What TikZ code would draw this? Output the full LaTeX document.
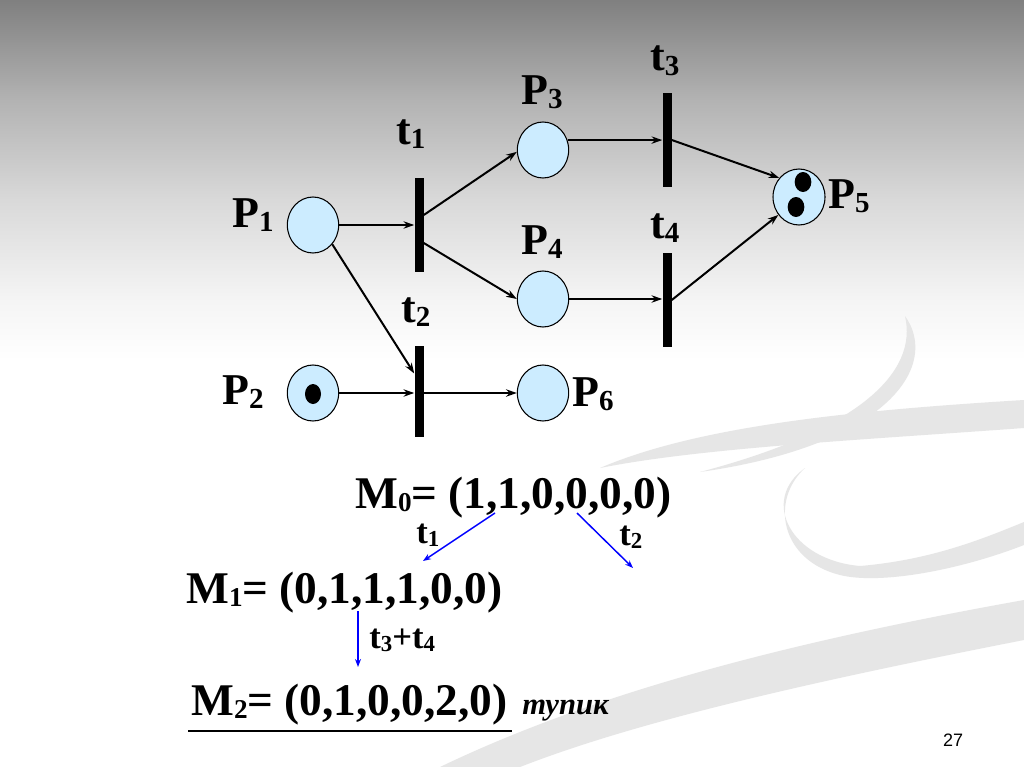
\documentclass[tikz,border=0pt]{standalone}
\usepackage{fontspec}
\usepackage{graphicx}
\setmainfont{Liberation Serif}
\newfontfamily\sansf{Liberation Sans}
\usetikzlibrary{shapes.geometric,arrows.meta,calc}
\newcommand{\sbx}[1]{\raisebox{-0.08em}{\scalebox{0.6}{#1}}}
\newcommand{\sby}[1]{\raisebox{-0.1em}{\scalebox{0.66}{#1}}}
\definecolor{placefill}{RGB}{204,236,255}
\definecolor{swirl}{RGB}{230,230,230}
\pgfdeclareverticalshading{bgshade}{100bp}{color(0bp)=(white); color(25bp)=(white); color(51.5bp)=(white); color(55.4bp)=(black!4); color(62bp)=(black!15); color(68.5bp)=(black!30); color(75bp)=(black!50); color(100bp)=(black!50)}
\begin{document}
\begin{tikzpicture}[x=0.75pt,y=-0.75pt,
  place/.style={ellipse,draw=black,line width=0.8pt,fill=placefill,minimum width=38.5pt,minimum height=42pt,inner sep=0pt},
  bar/.style={fill=black,inner sep=0pt,minimum width=6.75pt,minimum height=70.5pt},
  token/.style={ellipse,fill=black,inner sep=0pt,minimum width=12.5pt,minimum height=15pt},
  lbl/.style={anchor=base west,inner sep=0pt,font=\fontsize{33}{33}\selectfont\bfseries},
  tl/.style={anchor=base west,inner sep=0pt,font=\fontsize{33}{33}\selectfont\bfseries},
  mk/.style={anchor=base west,inner sep=0pt,font=\fontsize{34}{34}\selectfont\bfseries},
  small/.style={anchor=base west,inner sep=0pt,font=\fontsize{26}{26}\selectfont\bfseries},
  arr/.style={line width=1.5pt,-{Stealth[length=8pt,width=5.5pt]}},
  barr/.style={blue,line width=1.1pt,-{Stealth[length=6pt,width=4.5pt]}}]
\useasboundingbox (0,0) rectangle (1024,767);
% background
\shade[shading=bgshade] (0,0) rectangle (1024,767);
% decorative swirls
\fill[swirl] (905,316) .. controls (940,365) and (890,445) .. (700,472)
  .. controls (860,430) and (918,372) .. (905,316) -- cycle;
\fill[swirl] (600,468) .. controls (700,425) and (860,410) .. (1024,400)
  -- (1024,428) .. controls (860,440) and (700,448) .. (600,468) -- cycle;
\fill[swirl] (805,468) .. controls (760,500) and (790,560) .. (860,566)
  .. controls (930,560) and (980,540) .. (1024,522) -- (1024,545)
  .. controls (960,570) and (880,585) .. (840,575)
  .. controls (780,560) and (770,500) .. (805,468) -- cycle;
\fill[swirl] (440,767) .. controls (600,690) and (800,640) .. (1024,600)
  -- (1024,640) .. controls (820,680) and (640,720) .. (520,767) -- cycle;
% places
\node[place] (P1) at (313,225) {};
\node[place] (P2) at (313,393) {};
\node[place] (P3) at (543,150) {};
\node[place] (P4) at (543,299) {};
\node[place] (P6) at (543,393) {};
\node[place,minimum width=39pt] (P5) at (799,197) {};
\node[token,minimum width=12pt] (k2) at (313,394) {};
\node[token] (k5a) at (803,182) {};
\node[token] (k5b) at (796,207) {};
% transitions
\node[bar] (t1) at (419,225) {};
\node[bar,minimum height=68pt] (t2) at (419,391.5) {};
\node[bar] (t3) at (667,140) {};
\node[bar] (t4) at (667,300) {};
% labels
\node[lbl] (lP1) at (232,227) {P\sby{1}};
\node[lbl] (lP2) at (222,404) {P\sby{2}};
\node[lbl] (lP3) at (521,104) {P\sby{3}};
\node[lbl] (lP4) at (521,254) {P\sby{4}};
\node[lbl] (lP5) at (828,208) {P\sby{5}};
\node[lbl] (lP6) at (572,406) {P\sby{6}};
\node[tl] (lt1) at (396,144) {t\sby{1}};
\node[tl] (lt2) at (401,322) {t\sby{2}};
\node[tl] (lt3) at (650,71) {t\sby{3}};
\node[tl] (lt4) at (650,238) {t\sby{4}};
% arcs
\draw[arr] (P1.east) -- (t1.west);
\draw[arr] ($(t1.east)+(0,-10)$) -- (P3.184);
\draw[arr] ($(t1.east)+(0,18)$) -- (P4.180);
\draw[arr] (P1.-45) -- ($(t2.west)+(0,-18)$);
\draw[arr] (P2.east) -- (P2.east -| t2.west);
\draw[arr] (t2.east |- P6.west) -- (P6.west);
\draw[arr] (P3.22) -- (P3.22 -| t3.west);
\draw[arr] (P4.east) -- (P4.east -| t4.west);
\draw[arr] (t3.east) -- (P5.136);
\draw[arr] (t4.east) -- (P5.221);
% markings
\node[mk] (M0) at (355,508) {M\sbx{0}= (1,1,0,0,0,0)};
\node[mk] (M1) at (186,603) {M\sbx{1}= (0,1,1,1,0,0)};
\node[mk] (M2) at (191,715) {M\sbx{2}= (0,1,0,0,2,0)};
\node[anchor=base west,inner sep=0pt,font=\fontsize{23}{23}\selectfont\bfseries\itshape] (dead) at (522,714) {тупик};
\draw[line width=0.9pt] (188,731) -- (512,731);
\coordinate (m0a) at (495,513);
\coordinate (m1a) at (423,561);
\coordinate (m0b) at (577,513);
\coordinate (m0c) at (633,568);
\coordinate (m1b) at (358,611);
\coordinate (m2a) at (358,667);
\draw[barr] (m0a) -- (m1a);
\draw[barr] (m0b) -- (m0c);
\draw[barr] (m1b) -- (m2a);
\node[small] (st1) at (416,543) {t\sby{1}};
\node[small] (st2) at (619,545) {t\sby{2}};
\node[small] (st34) at (369,648) {t\sby{3}+t\sby{4}};
\node[font=\sansf\fontsize{13.5}{13.5}\selectfont] (pg) at (953,740) {27};
\end{tikzpicture}
\end{document}
